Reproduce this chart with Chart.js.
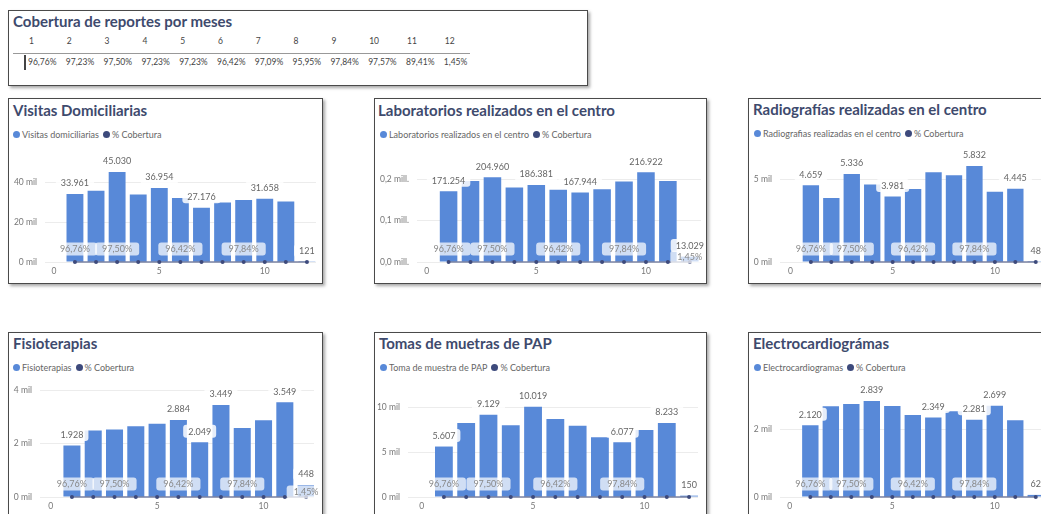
<!DOCTYPE html>
<html lang="es">
<head>
<meta charset="utf-8">
<title>Cobertura de reportes</title>
<script src="https://cdn.jsdelivr.net/npm/chart.js"></script>
<style>
  body { margin: 0; width: 1041px; height: 514px; overflow: hidden; background: #fff; font-family: Lato, sans-serif; position: relative; }
  .panel { position: absolute; box-sizing: border-box; background: #fff; border: 1px solid #4a4a4a; box-shadow: 2px 2px 3px rgba(0,0,0,0.35); }
  .ttl { position: absolute; font-weight: 700; font-size: 15px; line-height: 18px; color: #3e4a6d; white-space: nowrap; }
  .lg { position: absolute; font-size: 9px; line-height: 11px; color: #666; display: flex; align-items: center; white-space: nowrap; }
  .lg i { display: inline-block; width: 7px; height: 7px; border-radius: 50%; margin-right: 2px; }
  .lg span { margin-right: 4px; }
  .cell { position: absolute; font-size: 8.5px; line-height: 11px; color: #444; white-space: nowrap; }
  canvas { position: absolute; }
</style>
</head>
<body>
  <!-- tabla -->
  <div class="panel" style="left:8px;top:10px;width:580px;height:76px"></div>
  <div class="ttl" style="left:13px;top:12px">Cobertura de reportes por meses</div>
  <div style="position:absolute;left:13px;top:53px;width:457px;height:1px;background:#999"></div>
  <div style="position:absolute;left:24px;top:55px;width:1.5px;height:15px;background:#444"></div>
  <div id="tbl"></div>

  <!-- paneles -->
  <div class="panel" style="left:8px;top:98px;width:315px;height:186px"></div>
  <div class="panel" style="left:374px;top:98px;width:333px;height:186px"></div>
  <div class="panel" style="left:748px;top:98px;width:340px;height:186px"></div>
  <div class="panel" style="left:8px;top:332px;width:315px;height:200px"></div>
  <div class="panel" style="left:374px;top:332px;width:333px;height:200px"></div>
  <div class="panel" style="left:748px;top:332px;width:340px;height:200px"></div>

  <div class="ttl" style="left:13px;top:101px">Visitas Domiciliarias</div>
  <div class="ttl" style="left:378px;top:101px">Laboratorios realizados en el centro</div>
  <div class="ttl" style="left:753px;top:100px">Radiografías realizadas en el centro</div>
  <div class="ttl" style="left:13px;top:334px">Fisioterapias</div>
  <div class="ttl" style="left:379px;top:334px">Tomas de muetras de PAP</div>
  <div class="ttl" style="left:753px;top:334px">Electrocardiográmas</div>

  <div class="lg" style="left:13px;top:129px"><i style="background:#5889d8"></i><span>Visitas domiciliarias</span><i style="background:#3d4a7c"></i><span>% Cobertura</span></div>
  <div class="lg" style="left:380px;top:129px"><i style="background:#5889d8"></i><span>Laboratorios realizados en el centro</span><i style="background:#3d4a7c"></i><span>% Cobertura</span></div>
  <div class="lg" style="left:754px;top:128px"><i style="background:#5889d8"></i><span>Radiografias realizadas en el centro</span><i style="background:#3d4a7c"></i><span>% Cobertura</span></div>
  <div class="lg" style="left:13px;top:362px"><i style="background:#5889d8"></i><span>Fisioterapias</span><i style="background:#3d4a7c"></i><span>% Cobertura</span></div>
  <div class="lg" style="left:380px;top:362px"><i style="background:#5889d8"></i><span>Toma de muestra de PAP</span><i style="background:#3d4a7c"></i><span>% Cobertura</span></div>
  <div class="lg" style="left:754px;top:362px"><i style="background:#5889d8"></i><span>Electrocardiogramas</span><i style="background:#3d4a7c"></i><span>% Cobertura</span></div>

  <canvas id="c1"></canvas>
  <canvas id="c2"></canvas>
  <canvas id="c3"></canvas>
  <canvas id="c4"></canvas>
  <canvas id="c5"></canvas>
  <canvas id="c6"></canvas>

<script>
// datos
const months = [1, 2, 3, 4, 5, 6, 7, 8, 9, 10, 11, 12];
const cobertura = [96.76, 97.23, 97.50, 97.23, 97.23, 96.42, 97.09, 95.95, 97.84, 97.57, 89.41, 1.45];

const visitas = [33961, 35600, 45030, 33800, 36954, 32000, 27176, 29800, 31000, 31658, 30300, 121];
const laboratorios = [171254, 196000, 204960, 180000, 186381, 175000, 167944, 176000, 195000, 216922, 196000, 13029];
const radiografias = [4659, 3880, 5336, 4710, 3981, 4430, 5440, 5260, 5832, 4270, 4445, 48];
const fisioterapias = [1928, 2490, 2530, 2650, 2750, 2884, 2049, 3449, 2590, 2880, 3549, 448];
const pap = [5607, 8220, 9129, 7960, 10019, 8670, 7930, 6630, 6077, 7440, 8233, 150];
const ecg = [2120, 2680, 2750, 2839, 2690, 2420, 2349, 2530, 2281, 2699, 2270, 62];

const xTicks = [0, 5, 10];
const visitasTicks = [0, 20000, 40000];
const labTicks = [0, 100000, 200000];
const radioTicks = [0, 5000];
const fisioTicks = [0, 2000, 4000];
const papTicks = [0, 5000, 10000];
const ecgTicks = [0, 2000];

const BAR = '#5889d8';
const LINE = '#3d4a7c';

// tabla de cobertura
const tbl = document.getElementById('tbl');
months.forEach((m, i) => {
    const h = document.createElement('div');
    h.className = 'cell';
    h.style.left = (29 + i * 37.8) + 'px';
    h.style.top = '36px';
    h.textContent = m;
    tbl.appendChild(h);
    const v = document.createElement('div');
    v.className = 'cell';
    v.style.left = (28 + i * 37.8) + 'px';
    v.style.top = '57px';
    v.textContent = cobertura[i].toFixed(2).replace('.', ',') + '%';
    tbl.appendChild(v);
});

const fmtNum = v => String(v).replace(/\B(?=(\d{3})+(?!\d))/g, '.');
const fmtPct = v => v.toFixed(2).replace('.', ',') + '%';
const fmtMil = v => (v / 1000) + ' mil';
const fmtMill = v => (v / 1e6).toFixed(1).replace('.', ',') + ' mill.';

function box(ctx, text, x, y, padX, fill, color) {
    const w = ctx.measureText(text).width + padX * 2;
    ctx.fillStyle = fill;
    ctx.beginPath();
    ctx.roundRect(x - w / 2, y - 6.5, w, 13, 3);
    ctx.fill();
    ctx.fillStyle = color;
    ctx.fillText(text, x, y + 0.5);
}

const labelPlugin = {
    id: 'valueLabels',
    afterDatasetsDraw(chart, args, opts) {
        const ctx = chart.ctx;
        ctx.save();
        ctx.font = '9px Lato';
        ctx.textAlign = 'center';
        ctx.textBaseline = 'middle';
        const bars = chart.getDatasetMeta(0).data;
        const pts = chart.getDatasetMeta(1).data;
        opts.pct.forEach(i => {
            const p = pts[i];
            const off = i === 11 ? 5 : 13;
            box(ctx, fmtPct(cobertura[i]), p.x, p.y - off, 7, 'rgba(255,255,255,0.72)', '#888');
        });
        opts.bar.forEach(i => {
            const b = bars[i];
            box(ctx, fmtNum(opts.values[i]), b.x, b.y - 11, 5, 'rgba(255,255,255,0.85)', '#666');
        });
        ctx.restore();
    }
};

function makeChart(id, values, c) {
    const el = document.getElementById(id);
    el.width = c.w;
    el.height = c.h;
    el.style.left = c.left + 'px';
    el.style.top = c.top + 'px';
    return new Chart(el.getContext('2d'), {
        data: {
            datasets: [{
                type: 'bar',
                data: months.map((m, i) => ({ x: m, y: values[i] })),
                backgroundColor: BAR,
                borderWidth: 0,
                categoryPercentage: 0.8,
                barPercentage: 1
            }, {
                type: 'line',
                data: months.map((m, i) => ({ x: m, y: cobertura[i] / 100 })),
                borderColor: LINE,
                borderWidth: 1,
                pointRadius: 2,
                pointBackgroundColor: LINE,
                pointBorderWidth: 0,
                clip: false,
                order: -1
            }]
        },
        options: {
            responsive: false,
            animation: false,
            layout: { padding: { top: 10, left: 0, right: 0, bottom: 0 } },
            plugins: {
                legend: { display: false },
                tooltip: { enabled: false },
                valueLabels: { values: values, bar: c.bar, pct: c.pct }
            },
            scales: {
                x: {
                    type: 'linear', bounds: 'data', min: c.xMin, max: c.xMax, offset: false,
                    grid: { display: false, drawTicks: false }, border: { display: false },
                    ticks: { font: { family: 'Lato', size: 8.5 }, color: '#777', padding: 4, maxRotation: 0, autoSkip: false },
                    afterBuildTicks: a => { a.ticks = xTicks.map(v => ({ value: v })); },
                    afterFit: a => { a.height = 20; a.paddingLeft = 0; a.paddingRight = 0; }
                },
                y: {
                    type: 'linear', bounds: 'data', min: 0, max: c.yMax,
                    grid: { color: '#ececec', drawTicks: false }, border: { display: false },
                    ticks: { font: { family: 'Lato', size: 8.5 }, color: '#777', padding: 8, callback: c.fmt },
                    afterBuildTicks: a => { a.ticks = c.ticks.map(v => ({ value: v })); },
                    afterFit: a => { a.width = c.yW; a.paddingTop = 0; a.paddingBottom = 0; }
                }
            }
        },
        plugins: [labelPlugin]
    });
}

makeChart('c1', visitas, { left: 9, top: 135, w: 311, h: 147, yW: 36, xMin: -0.42, xMax: 12.43, yMax: 58500, ticks: visitasTicks, fmt: fmtMil, bar: [0, 2, 4, 6, 9, 11], pct: [0, 2, 5, 8] });
makeChart('c2', laboratorios, { left: 375, top: 135, w: 330, h: 147, yW: 42, xMin: -0.44, xMax: 12.51, yMax: 283000, ticks: labTicks, fmt: fmtMill, bar: [0, 2, 4, 6, 9, 11], pct: [0, 2, 5, 8, 11] });
makeChart('c3', radiografias, { left: 749, top: 135, w: 301, h: 147, yW: 31, xMin: -0.51, xMax: 12.5, yMax: 7100, ticks: radioTicks, fmt: fmtMil, bar: [0, 2, 4, 8, 10, 11], pct: [0, 2, 5, 8] });
makeChart('c4', fisioterapias, { left: 9, top: 370, w: 309, h: 147, yW: 31, xMin: -0.5, xMax: 12.37, yMax: 4387, ticks: fisioTicks, fmt: fmtMil, bar: [0, 5, 6, 7, 10, 11], pct: [0, 2, 5, 8, 11] });
makeChart('c5', pap, { left: 376, top: 370, w: 326, h: 147, yW: 32, xMin: -0.61, xMax: 12.4, yMax: 13000, ticks: papTicks, fmt: fmtMil, bar: [0, 2, 4, 8, 10, 11], pct: [0, 2, 5, 8] });
makeChart('c6', ecg, { left: 749, top: 370, w: 301, h: 147, yW: 31, xMin: -0.48, xMax: 12.5, yMax: 3456, ticks: ecgTicks, fmt: fmtMil, bar: [0, 3, 6, 8, 9, 11], pct: [0, 2, 5, 8] });
</script>
</body>
</html>
